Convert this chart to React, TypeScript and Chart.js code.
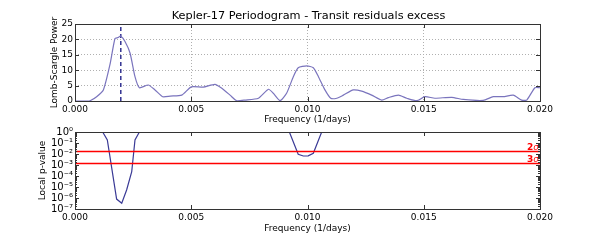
import React, { useEffect, useRef } from "react";
import { Chart, registerables } from "chart.js";
Chart.register(...registerables);

const FONT = "'DejaVu Sans', sans-serif";

// Periodogram (top panel)
const freqPower = [
  0, 0.0005, 0.00065, 0.00093, 0.00122, 0.0015, 0.00172, 0.00185, 0.00196, 0.00215, 0.00237,
  0.00258, 0.00277, 0.00315, 0.00344, 0.00377, 0.0041, 0.00459, 0.005, 0.00552, 0.00602,
  0.0063, 0.00667, 0.00695, 0.00731, 0.00789, 0.00832, 0.00853, 0.00882, 0.0091, 0.00939,
  0.0096, 0.00997, 0.01025, 0.01047, 0.01075, 0.011, 0.01126, 0.01154, 0.01197, 0.01233,
  0.01276, 0.01319, 0.01348, 0.01391, 0.01427, 0.0147, 0.01505, 0.01548, 0.0162, 0.0167,
  0.01756, 0.01799, 0.01842, 0.01885, 0.01921, 0.01943, 0.01978, 0.02,
];
const power = [
  0, 0, 0.1, 1.4, 3.6, 11.7, 20.3, 20.6, 21.1, 19.3, 15.5,
  7.9, 4.3, 5.2, 3.6, 1.4, 1.6, 1.9, 4.6, 4.5, 5.4,
  4.2, 1.9, 0.1, 0.3, 0.9, 3.8, 2.5, 0.1, 2.5, 7.9,
  10.8, 11.4, 10.8, 7.9, 3.6, 0.9, 0.9, 1.9, 3.6, 3.2,
  1.9, 0.3, 1.1, 1.9, 0.9, 0.1, 1.4, 0.9, 1.2, 0.5,
  0.2, 1.4, 1.4, 1.9, 0.3, 0.3, 4.3, 4.3,
];
const peakFreq = 0.00197;

// Local p-value (bottom panel)
const freqP = [
  0, 0.00119, 0.00139, 0.00179, 0.00201, 0.00222, 0.00244, 0.00258, 0.00277,
  0.00922, 0.0096, 0.00982, 0.01003, 0.01025, 0.01061, 0.02,
];
const pValues = [
  1, 1, 0.19, 8e-7, 3.3e-7, 5.4e-6, 2.5e-4, 0.19, 1,
  1, 0.0094, 0.0066, 0.0068, 0.0115, 1, 1,
];
const sigmaLevels = [0.0165, 0.0014];
const sigmaLabels = ["2", "3"];

// Ticks
const xTicks = [0, 0.005, 0.01, 0.015, 0.02];
const powerTicks = [0, 5, 10, 15, 20, 25];
const pTicks = [1, 1e-1, 1e-2, 1e-3, 1e-4, 1e-5, 1e-6, 1e-7];

const SUP: Record<string, string> = {
  "-": "\u207B", "0": "\u2070", "1": "\u00B9", "2": "\u00B2", "3": "\u00B3",
  "4": "\u2074", "5": "\u2075", "6": "\u2076", "7": "\u2077", "8": "\u2078", "9": "\u2079",
};
const supText = (n: number) => String(n).split("").map((c) => SUP[c] || c).join("");

const framePlugin = (isLog: boolean) => ({
  id: "frame",
  afterDraw(chart: any) {
    const { ctx, chartArea: a, scales } = chart;
    ctx.save();
    ctx.strokeStyle = "#333";
    ctx.lineWidth = 1;
    ctx.strokeRect(Math.round(a.left) + 0.5, Math.round(a.top) + 0.5, Math.round(a.right - a.left), Math.round(a.bottom - a.top));
    ctx.beginPath();
    const L = 4;
    for (const v of xTicks) {
      const x = Math.round(scales.x.getPixelForValue(v)) + 0.5;
      ctx.moveTo(x, a.bottom); ctx.lineTo(x, a.bottom - L);
      ctx.moveTo(x, a.top); ctx.lineTo(x, a.top + L);
    }
    const yt = isLog ? pTicks : powerTicks;
    for (const v of yt) {
      const y = Math.round(scales.y.getPixelForValue(v)) + 0.5;
      ctx.moveTo(a.left, y); ctx.lineTo(a.left + L, y);
      ctx.moveTo(a.right, y); ctx.lineTo(a.right - L, y);
    }
    if (isLog) {
      for (let e = -7; e < 0; e++) {
        for (let m = 2; m <= 9; m++) {
          const y = Math.round(scales.y.getPixelForValue(m * Math.pow(10, e))) + 0.5;
          ctx.moveTo(a.left, y); ctx.lineTo(a.left + 2, y);
          ctx.moveTo(a.right, y); ctx.lineTo(a.right - 2, y);
        }
      }
    }
    ctx.stroke();
    ctx.restore();
  },
});

const titlePlugin = {
  id: "ptitle",
  afterDraw(chart: any) {
    const { ctx, chartArea: a } = chart;
    ctx.save();
    ctx.fillStyle = "#000";
    ctx.font = `11.3px ${FONT}`;
    ctx.textAlign = "center";
    ctx.textBaseline = "middle";
    ctx.fillText("Kepler-17 Periodogram - Transit residuals excess", (a.left + a.right) / 2 + 1, 16);
    ctx.restore();
  },
};

const sigmaPlugin = {
  id: "sigma",
  afterDatasetsDraw(chart: any) {
    const { ctx, chartArea: a, scales } = chart;
    ctx.save();
    ctx.fillStyle = "#ff0000";
    ctx.textBaseline = "alphabetic";
    ctx.textAlign = "left";
    sigmaLevels.forEach((v, i) => {
      const y = scales.y.getPixelForValue(v) - 1.5;
      ctx.font = `italic 9px ${FONT}`;
      const ws = ctx.measureText("\u03C3").width;
      ctx.font = `bold 9px ${FONT}`;
      const wd = ctx.measureText(sigmaLabels[i]).width;
      const x0 = a.right - 1 - ws - wd;
      ctx.fillText(sigmaLabels[i], x0, y);
      ctx.font = `italic 9px ${FONT}`;
      ctx.fillText("\u03C3", x0 + wd, y);
    });
    ctx.restore();
  },
};

const tickFont = { family: FONT, size: 9 };

export default function App() {
  const topRef = useRef<HTMLCanvasElement>(null);
  const botRef = useRef<HTMLCanvasElement>(null);

  useEffect(() => {
    const top = new Chart(topRef.current!, {
      type: "line",
      data: {
        datasets: [
          {
            data: freqPower.map((f, i) => ({ x: f, y: power[i] })),
            borderColor: "#7a74bd",
            borderWidth: 1.2,
            pointRadius: 0,
            tension: 0.2,
          },
          {
            data: [{ x: peakFreq, y: 0 }, { x: peakFreq, y: 25 }],
            borderColor: "#24248a",
            borderWidth: 1.4,
            borderDash: [4, 3],
            pointRadius: 0,
          },
        ],
      },
      plugins: [framePlugin(false), titlePlugin],
      options: {
        animation: false,
        responsive: false,
        events: [],
        layout: { padding: { top: 24, right: 60, bottom: 110, left: 0 } },
        plugins: { legend: { display: false }, tooltip: { enabled: false } },
        scales: {
          x: {
            type: "linear",
            min: 0,
            max: 0.02,
            afterBuildTicks: (s: any) => { s.ticks = xTicks.map((v) => ({ value: v })); },
            afterFit: (s: any) => { s.height = 29; },
            ticks: { callback: (v: any) => Number(v).toFixed(3), font: tickFont, color: "#000", padding: 3, maxRotation: 0, autoSkip: false },
            grid: { color: "#b0b0b0", drawTicks: false, lineWidth: 1 },
            border: { display: false, dash: [1, 2] },
            title: { display: true, text: "Frequency (1/days)", font: tickFont, color: "#000", padding: { top: 0, bottom: 5.3 } },
          },
          y: {
            min: 0,
            max: 25,
            afterBuildTicks: (s: any) => { s.ticks = powerTicks.map((v) => ({ value: v })); },
            afterFit: (s: any) => { s.width = 75; },
            ticks: { font: tickFont, color: "#000", padding: 2 },
            grid: { color: "#b0b0b0", drawTicks: false, lineWidth: 1 },
            border: { display: false, dash: [1, 2] },
            title: { display: true, text: "Lomb-Scargle Power", font: tickFont, color: "#000", padding: { top: 49.6, bottom: 0 } },
          },
        },
      },
    } as any);

    const bot = new Chart(botRef.current!, {
      type: "line",
      data: {
        datasets: [
          ...sigmaLevels.map((v) => ({
            data: [{ x: 0, y: v }, { x: 0.02, y: v }],
            borderColor: "#ff0000",
            borderWidth: 1.5,
            pointRadius: 0,
          })),
          {
            data: freqP.map((f, i) => ({ x: f, y: pValues[i] })),
            borderColor: "#3a3a96",
            borderWidth: 1.2,
            pointRadius: 0,
            tension: 0,
          },
        ],
      },
      plugins: [framePlugin(true), sigmaPlugin],
      options: {
        animation: false,
        responsive: false,
        events: [],
        layout: { padding: { top: 132, right: 60, bottom: 0, left: 0 } },
        plugins: { legend: { display: false }, tooltip: { enabled: false } },
        scales: {
          x: {
            type: "linear",
            min: 0,
            max: 0.02,
            afterBuildTicks: (s: any) => { s.ticks = xTicks.map((v) => ({ value: v })); },
            afterFit: (s: any) => { s.height = 31; },
            ticks: { callback: (v: any) => Number(v).toFixed(3), font: tickFont, color: "#000", padding: 3, maxRotation: 0, autoSkip: false },
            grid: { display: false, drawTicks: false },
            border: { display: false },
            title: { display: true, text: "Frequency (1/days)", font: tickFont, color: "#000", padding: { top: 0, bottom: 6.3 } },
          },
          y: {
            type: "logarithmic",
            min: 1e-7,
            max: 1,
            afterBuildTicks: (s: any) => { s.ticks = pTicks.map((v) => ({ value: v })); },
            afterFit: (s: any) => { s.width = 75; },
            ticks: {
              callback: (v: any) => "10" + supText(Math.round(Math.log10(Number(v)))),
              font: { family: FONT, size: 10 },
              color: "#000",
              padding: 2,
              autoSkip: false,
            },
            grid: { display: false, drawTicks: false },
            border: { display: false },
            title: { display: true, text: "Local p-value", font: tickFont, color: "#000", padding: { top: 37.6, bottom: 0 } },
          },
        },
      },
    } as any);

    return () => { top.destroy(); bot.destroy(); };
  }, []);

  return (
    <div style={{ position: "fixed", left: 0, top: 0, width: 600, height: 240, background: "#fff" }}>
      <canvas ref={topRef} width={600} height={240} style={{ position: "absolute", left: 0, top: 0 }} />
      <canvas ref={botRef} width={600} height={240} style={{ position: "absolute", left: 0, top: 0 }} />
    </div>
  );
}
